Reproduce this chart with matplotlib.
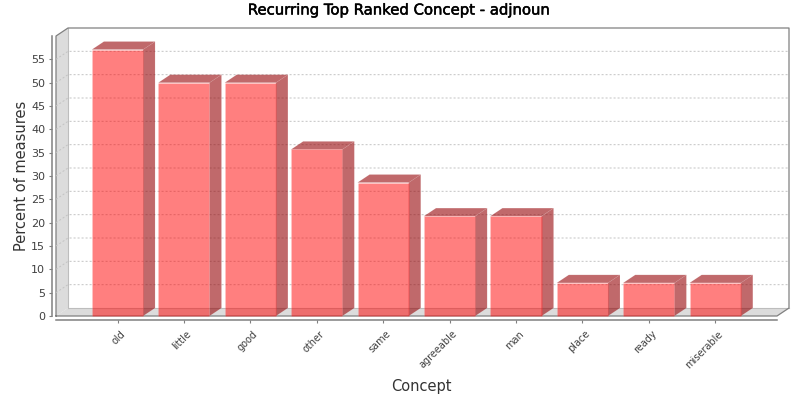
import matplotlib
matplotlib.use("Agg")
import matplotlib.pyplot as plt
import matplotlib.patheffects as pe
from matplotlib.patches import Polygon
from matplotlib.transforms import IdentityTransform, ScaledTranslation

concepts = ["old", "little", "good", "other", "same", "agreeable", "man", "place", "ready", "miserable"]
percent = [57.1, 50.0, 50.0, 35.7, 28.6, 21.4, 21.4, 7.1, 7.1, 7.1]
yticks = [0, 5, 10, 15, 20, 25, 30, 35, 40, 45, 50, 55]

W, H = 800, 400
# depth of the fake 3d, in pixels
DX, DY = 12, 8
BAR_W = 0.77
XMIN, XMAX = -0.926, 9.93
YMAX = 60.0

fig = plt.figure(figsize=(W / 100, H / 100), dpi=100, facecolor="white")
ax = fig.add_axes([56 / W, 1 - 316 / H, (777 - 56) / W, (316 - 36) / H])
ax.set_xlim(XMIN, XMAX)
ax.set_ylim(0, YMAX)
ax.patch.set_visible(False)


def front(x, y):
    return tuple(ax.transData.transform((x, y)))


def shifted(x, y):
    # data point -> display point pushed back by the 3d depth
    px, py = ax.transData.transform((x, y))
    return (px + DX, py + DY)


def poly(points, **kw):
    p = Polygon(points, closed=True, transform=IdentityTransform(), clip_on=False, **kw)
    fig.add_artist(p)


def line(points, **kw):
    xs = [p[0] for p in points]
    ys = [p[1] for p in points]
    fig.add_artist(plt.Line2D(xs, ys, transform=IdentityTransform(), **kw))


# left wall and floor
poly([front(XMIN, 0), shifted(XMIN, 0), shifted(XMIN, YMAX), front(XMIN, YMAX)],
     facecolor="#dcdcdc", edgecolor="none", zorder=1)
poly([front(XMIN, 0), shifted(XMIN, 0), shifted(XMAX, 0), front(XMAX, 0)],
     facecolor="#dcdcdc", edgecolor="none", zorder=1)
line([shifted(XMIN, 0), shifted(XMIN, YMAX)], color="#bdbdbd", lw=0.8, zorder=1)
line([shifted(XMIN, 0), shifted(XMAX, 0)], color="#bdbdbd", lw=0.8, zorder=1)

# plot outline
line([front(XMIN, 0), front(XMIN, YMAX), shifted(XMIN, YMAX), shifted(XMAX, YMAX), shifted(XMAX, 0),
      front(XMAX, 0), front(XMIN, 0)], color="#808080", lw=0.9, zorder=1)

# grid lines, on the back wall and across the left wall
for t in yticks[1:]:
    line([front(XMIN, t), shifted(XMIN, t), shifted(XMAX, t)],
         color="#c4c4c4", lw=0.72, ls=(0, (2, 2)), zorder=2)

# bars
for i, v in enumerate(percent):
    x0, x1 = i - BAR_W / 2, i + BAR_W / 2
    poly([front(x1, 0), shifted(x1, 0), shifted(x1, v), front(x1, v)],
         facecolor=(0.59, 0.02, 0.03, 0.6), edgecolor=(1, 1, 1, 0.1), linewidth=0.5, zorder=3)
    poly([front(x0, v), shifted(x0, v), shifted(x1, v), front(x1, v)],
         facecolor=(0.59, 0.02, 0.03, 0.6), edgecolor=(1, 1, 1, 0.1), linewidth=0.5, zorder=3)
    poly([front(x0, 0), front(x0, v), front(x1, v), front(x1, 0)],
         facecolor=(1, 0, 0, 0.5), edgecolor=(1, 1, 1, 0.1), linewidth=0.5, zorder=4)

# axes
for s in ["top", "right"]:
    ax.spines[s].set_visible(False)
for s in ["left", "bottom"]:
    ax.spines[s].set_position(("outward", 3))
    ax.spines[s].set_color("#808080")
    ax.spines[s].set_linewidth(1.1)
ax.set_xticks(range(len(concepts)))
ax.set_xticklabels(concepts, rotation=45, ha="right", va="center", rotation_mode="anchor")
ax.set_yticks(yticks)
ax.tick_params(axis="both", length=2.2, width=0.8, color="#808080", labelsize=8, labelcolor="#404040", pad=2.5)
ax.tick_params(axis="x", labelsize=7.0)
# x labels end just right of their tick, 6 px across and 5.5 px down
offset = ScaledTranslation(6 / 100, -5.5 / 100, fig.dpi_scale_trans)
for lab in ax.get_xticklabels():
    lab.set_transform(lab.get_transform() + offset)

fig.text(400 / W, 1 - 10 / H, "Recurring Top Ranked Concept - adjnoun", ha="center", va="center",
         fontsize=10.7, color="black", path_effects=[pe.withStroke(linewidth=0.35, foreground="black")])
fig.text(22 / W, 1 - 176 / H, "Percent of measures", rotation=90, ha="center", va="center",
         fontsize=10.5, color="#333333")
fig.text(421 / W, 1 - 387 / H, "Concept", ha="center", va="center", fontsize=10.5, color="#333333")

fig.savefig("out.png", dpi=100, facecolor="white")
